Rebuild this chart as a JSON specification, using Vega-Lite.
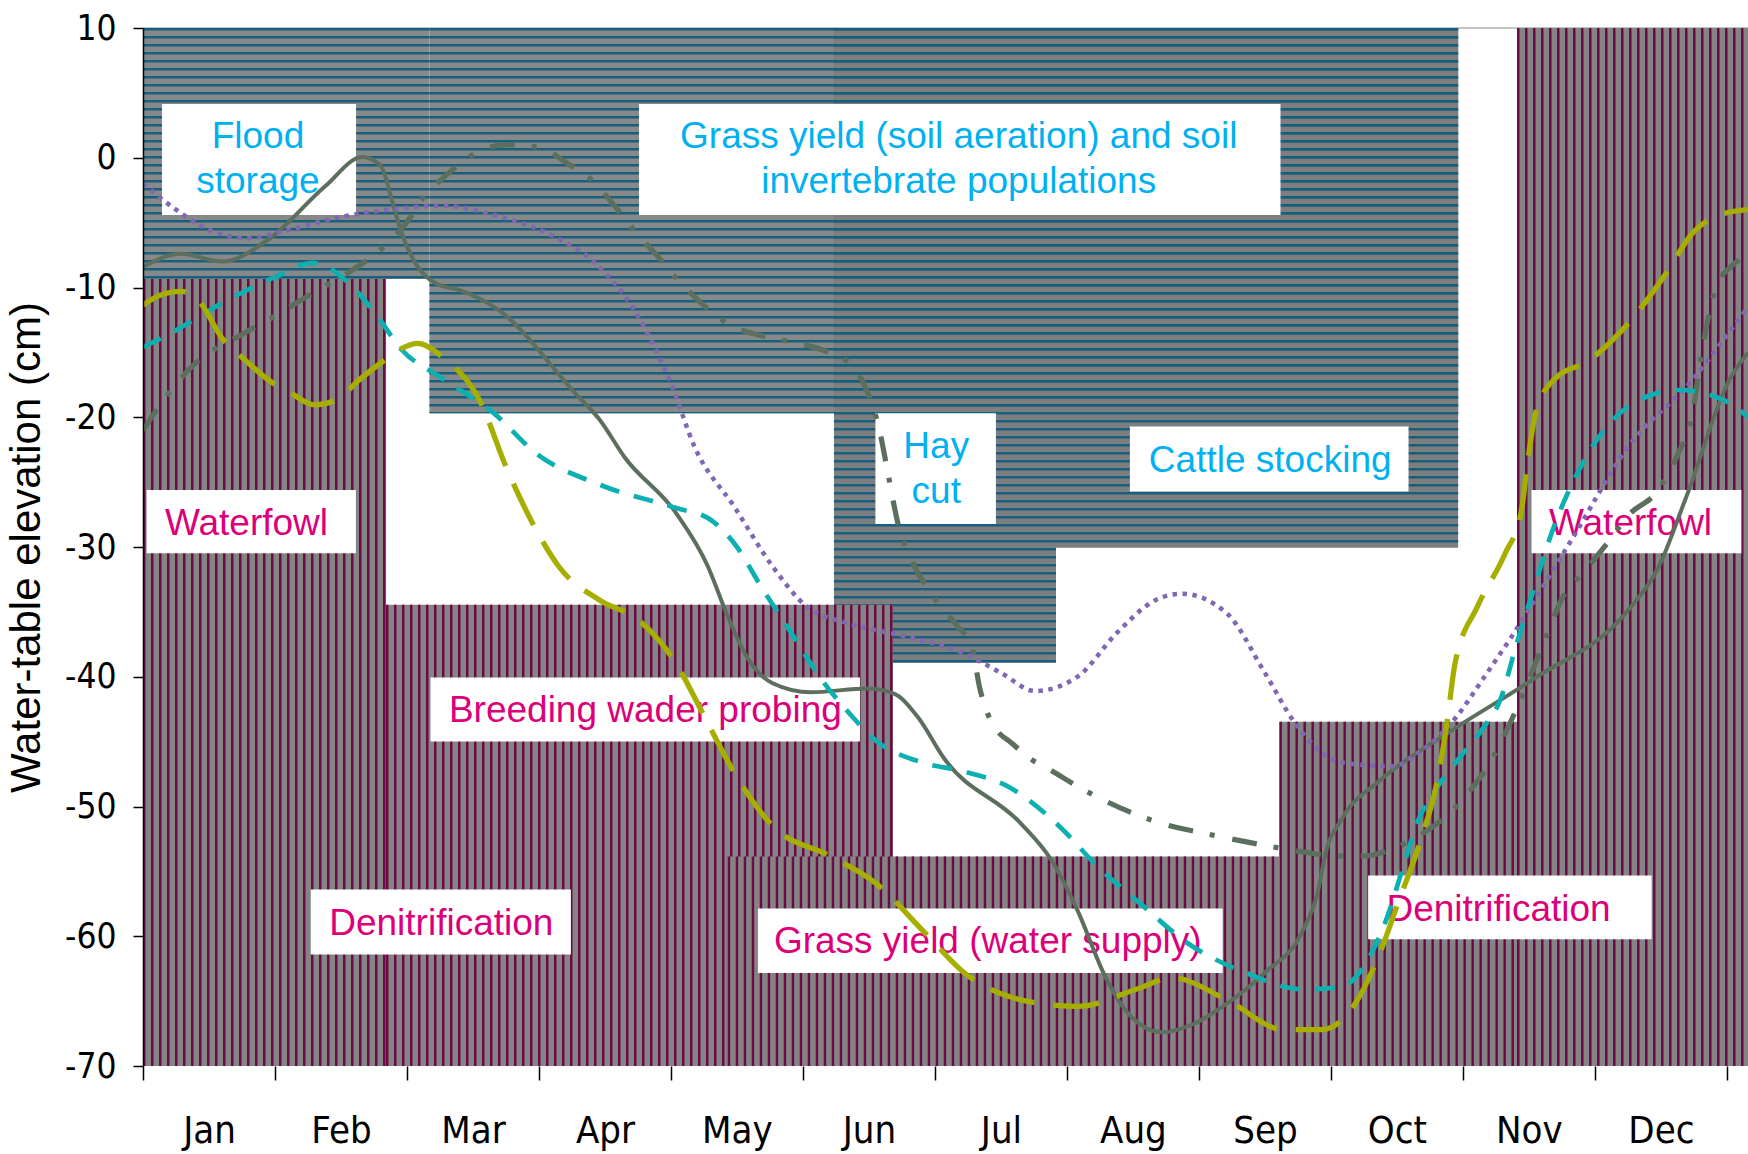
{
  "$schema": "https://vega.github.io/schema/vega-lite/v6.json",
  "width": 1605,
  "height": 1038,
  "autosize": {"type": "none"},
  "padding": {"left": 143, "top": 28, "right": 0, "bottom": 88},
  "background": "white",
  "config": {"view": {"stroke": null}},
  "datasets": {
    "blueZones": [
      {"zone": "Flood storage", "x1": 0, "x2": 2.17, "top": 10, "bottom": -9.35},
      {"zone": "Grass yield (soil aeration)", "x1": 2.17, "x2": 9.964, "top": 10, "bottom": -19.69},
      {"zone": "Hay cut", "x1": 5.235, "x2": 6.917, "top": 10, "bottom": -38.93},
      {"zone": "Cattle stocking", "x1": 6.917, "x2": 9.964, "top": 10, "bottom": -30.05}
    ],
    "pinkZones": [
      {"zone": "Waterfowl (winter)", "x1": 0, "x2": 1.841, "top": -9.35},
      {"zone": "Breeding wader probing", "x1": 1.841, "x2": 5.682, "top": -34.46},
      {"zone": "Denitrification (autumn)", "x1": 8.61, "x2": 10.41, "top": -43.47},
      {"zone": "Waterfowl (late autumn)", "x1": 10.41, "x2": 12.16, "top": 10}
    ],
    "pinkFront": [
      {"zone": "Grass yield (water supply)", "x1": 4.43, "x2": 8.61, "top": -53.85}
    ],
    "boxes": [
      {"box": "Flood storage", "x1": 0.144, "x2": 1.614, "y1": 4.14, "y2": -4.41},
      {"box": "Grass yield (soil aeration)", "x1": 3.758, "x2": 8.618, "y1": 4.14, "y2": -4.41},
      {"box": "Hay cut", "x1": 5.549, "x2": 6.462, "y1": -19.69, "y2": -28.22},
      {"box": "Cattle stocking", "x1": 7.477, "x2": 9.588, "y1": -20.72, "y2": -25.73},
      {"box": "Waterfowl L", "x1": 0.027, "x2": 1.613, "y1": -25.6, "y2": -30.48},
      {"box": "Waterfowl R", "x1": 10.52, "x2": 12.11, "y1": -25.6, "y2": -30.48},
      {"box": "Breeding wader probing", "x1": 2.178, "x2": 5.432, "y1": -40.06, "y2": -44.99},
      {"box": "Denitrification L", "x1": 1.271, "x2": 3.242, "y1": -56.39, "y2": -61.4},
      {"box": "Grass yield (water supply)", "x1": 4.659, "x2": 8.18, "y1": -57.86, "y2": -62.83},
      {"box": "Denitrification R", "x1": 9.282, "x2": 11.43, "y1": -55.31, "y2": -60.24}
    ],
    "labels": [
      {"label": "Flood", "kind": "max", "m": 0.871, "v": 0.72},
      {"label": "storage", "kind": "max", "m": 0.871, "v": -2.7},
      {"label": "Grass yield (soil aeration) and soil", "kind": "max", "m": 6.18, "v": 0.72},
      {"label": "invertebrate populations", "kind": "max", "m": 6.18, "v": -2.7},
      {"label": "Hay", "kind": "max", "m": 6.01, "v": -23.16},
      {"label": "cut", "kind": "max", "m": 6.01, "v": -26.63},
      {"label": "Cattle stocking", "kind": "max", "m": 8.54, "v": -24.19},
      {"label": "Waterfowl", "kind": "min", "m": 0.784, "v": -29.07},
      {"label": "Waterfowl", "kind": "min", "m": 11.27, "v": -29.07},
      {"label": "Breeding wader probing", "kind": "min", "m": 3.806, "v": -43.45},
      {"label": "Denitrification", "kind": "min", "m": 2.26, "v": -59.88},
      {"label": "Grass yield (water supply)", "kind": "min", "m": 6.4, "v": -61.3},
      {"label": "Denitrification", "kind": "min", "m": 10.27, "v": -58.86}
    ],
    "levels": [
      {"series": "1", "m": 0, "v": -8.4}, {"series": "1", "m": 0.29, "v": -7.4}, {"series": "1", "m": 0.6, "v": -8.0},
      {"series": "1", "m": 0.95, "v": -6.3}, {"series": "1", "m": 1.38, "v": -2.2}, {"series": "1", "m": 1.66, "v": 0.05},
      {"series": "1", "m": 1.8, "v": -0.6}, {"series": "1", "m": 1.9, "v": -3.8}, {"series": "1", "m": 1.96, "v": -5.8},
      {"series": "1", "m": 2.05, "v": -7.9}, {"series": "1", "m": 2.22, "v": -9.7}, {"series": "1", "m": 2.4, "v": -10.2},
      {"series": "1", "m": 2.69, "v": -11.7}, {"series": "1", "m": 3.27, "v": -18.1}, {"series": "1", "m": 3.46, "v": -20.2},
      {"series": "1", "m": 3.65, "v": -23.1}, {"series": "1", "m": 4.04, "v": -27.4}, {"series": "1", "m": 4.28, "v": -31.5},
      {"series": "1", "m": 4.42, "v": -35.1}, {"series": "1", "m": 4.56, "v": -38.2}, {"series": "1", "m": 4.77, "v": -40.5},
      {"series": "1", "m": 5.06, "v": -41.2}, {"series": "1", "m": 5.49, "v": -40.9}, {"series": "1", "m": 5.69, "v": -41.3},
      {"series": "1", "m": 5.87, "v": -43.1}, {"series": "1", "m": 6.07, "v": -46.3}, {"series": "1", "m": 6.65, "v": -51.3},
      {"series": "1", "m": 6.88, "v": -54.1}, {"series": "1", "m": 7.08, "v": -58.0}, {"series": "1", "m": 7.29, "v": -63.1},
      {"series": "1", "m": 7.46, "v": -65.9}, {"series": "1", "m": 7.72, "v": -67.4}, {"series": "1", "m": 7.95, "v": -66.8},
      {"series": "1", "m": 8.21, "v": -65.2}, {"series": "1", "m": 8.5, "v": -62.8}, {"series": "1", "m": 8.79, "v": -59.5},
      {"series": "1", "m": 8.9, "v": -56.6}, {"series": "1", "m": 8.96, "v": -53.6}, {"series": "1", "m": 9.08, "v": -51.0},
      {"series": "1", "m": 9.37, "v": -48.0}, {"series": "1", "m": 9.89, "v": -44.3}, {"series": "1", "m": 10.53, "v": -40.2},
      {"series": "1", "m": 11.25, "v": -34.9}, {"series": "1", "m": 11.48, "v": -31.6}, {"series": "1", "m": 11.69, "v": -26.2},
      {"series": "1", "m": 12.02, "v": -17.1}, {"series": "1", "m": 12.16, "v": -15.0},

      {"series": "2", "m": 0, "v": -21.0}, {"series": "2", "m": 0.19, "v": -18.2}, {"series": "2", "m": 0.37, "v": -16.1},
      {"series": "2", "m": 0.77, "v": -13.5}, {"series": "2", "m": 1.0, "v": -12.2}, {"series": "2", "m": 1.29, "v": -10.4},
      {"series": "2", "m": 1.58, "v": -8.7}, {"series": "2", "m": 1.82, "v": -6.9}, {"series": "2", "m": 1.99, "v": -5.1},
      {"series": "2", "m": 2.13, "v": -3.0}, {"series": "2", "m": 2.28, "v": -1.5}, {"series": "2", "m": 2.51, "v": 0.3},
      {"series": "2", "m": 2.74, "v": 1.0}, {"series": "2", "m": 3.0, "v": 0.8}, {"series": "2", "m": 3.21, "v": -0.4},
      {"series": "2", "m": 3.41, "v": -1.8}, {"series": "2", "m": 3.58, "v": -3.8}, {"series": "2", "m": 3.74, "v": -5.8},
      {"series": "2", "m": 3.9, "v": -7.6}, {"series": "2", "m": 4.07, "v": -9.6}, {"series": "2", "m": 4.24, "v": -11.3},
      {"series": "2", "m": 4.45, "v": -12.9}, {"series": "2", "m": 4.68, "v": -13.7}, {"series": "2", "m": 4.91, "v": -14.2},
      {"series": "2", "m": 5.17, "v": -14.9}, {"series": "2", "m": 5.38, "v": -16.1}, {"series": "2", "m": 5.49, "v": -18.1},
      {"series": "2", "m": 5.58, "v": -21.0}, {"series": "2", "m": 5.64, "v": -24.1}, {"series": "2", "m": 5.72, "v": -28.2},
      {"series": "2", "m": 5.85, "v": -31.6}, {"series": "2", "m": 5.96, "v": -33.4}, {"series": "2", "m": 6.07, "v": -34.9},
      {"series": "2", "m": 6.17, "v": -36.1}, {"series": "2", "m": 6.28, "v": -37.7}, {"series": "2", "m": 6.34, "v": -40.9},
      {"series": "2", "m": 6.39, "v": -42.6}, {"series": "2", "m": 6.46, "v": -44.0}, {"series": "2", "m": 6.58, "v": -45.1},
      {"series": "2", "m": 6.72, "v": -46.3}, {"series": "2", "m": 6.86, "v": -47.1}, {"series": "2", "m": 7.09, "v": -48.5},
      {"series": "2", "m": 7.52, "v": -50.6}, {"series": "2", "m": 7.75, "v": -51.4}, {"series": "2", "m": 8.01, "v": -52.0},
      {"series": "2", "m": 8.5, "v": -53.0}, {"series": "2", "m": 8.79, "v": -53.5}, {"series": "2", "m": 9.02, "v": -53.8},
      {"series": "2", "m": 9.25, "v": -53.8}, {"series": "2", "m": 9.48, "v": -53.2}, {"series": "2", "m": 9.66, "v": -52.3},
      {"series": "2", "m": 9.89, "v": -50.6}, {"series": "2", "m": 10.06, "v": -48.7}, {"series": "2", "m": 10.2, "v": -46.7},
      {"series": "2", "m": 10.41, "v": -42.4}, {"series": "2", "m": 10.62, "v": -37.2}, {"series": "2", "m": 10.76, "v": -33.8},
      {"series": "2", "m": 10.91, "v": -32.0}, {"series": "2", "m": 11.11, "v": -29.5}, {"series": "2", "m": 11.25, "v": -27.6},
      {"series": "2", "m": 11.48, "v": -25.6}, {"series": "2", "m": 11.63, "v": -22.8}, {"series": "2", "m": 11.74, "v": -19.7},
      {"series": "2", "m": 11.8, "v": -15.6}, {"series": "2", "m": 11.92, "v": -9.9}, {"series": "2", "m": 12.03, "v": -8.4},
      {"series": "2", "m": 12.16, "v": -7.5},

      {"series": "3", "m": 0, "v": -2.0}, {"series": "3", "m": 0.25, "v": -4.0}, {"series": "3", "m": 0.51, "v": -5.6},
      {"series": "3", "m": 0.8, "v": -6.2}, {"series": "3", "m": 1.09, "v": -5.6}, {"series": "3", "m": 1.53, "v": -4.5},
      {"series": "3", "m": 1.96, "v": -3.9}, {"series": "3", "m": 2.25, "v": -3.7}, {"series": "3", "m": 2.69, "v": -4.5},
      {"series": "3", "m": 3.12, "v": -6.1}, {"series": "3", "m": 3.4, "v": -7.9}, {"series": "3", "m": 3.75, "v": -12.2},
      {"series": "3", "m": 4.0, "v": -17.4}, {"series": "3", "m": 4.18, "v": -22.3}, {"series": "3", "m": 4.48, "v": -26.9},
      {"series": "3", "m": 4.77, "v": -31.5}, {"series": "3", "m": 5.03, "v": -34.6}, {"series": "3", "m": 5.35, "v": -35.9},
      {"series": "3", "m": 5.78, "v": -36.9}, {"series": "3", "m": 6.22, "v": -38.2}, {"series": "3", "m": 6.5, "v": -39.7},
      {"series": "3", "m": 6.76, "v": -41.1}, {"series": "3", "m": 7.08, "v": -40.0}, {"series": "3", "m": 7.38, "v": -36.6},
      {"series": "3", "m": 7.67, "v": -34.1}, {"series": "3", "m": 7.87, "v": -33.6}, {"series": "3", "m": 8.21, "v": -35.1},
      {"series": "3", "m": 8.5, "v": -39.7}, {"series": "3", "m": 8.73, "v": -43.6}, {"series": "3", "m": 9.08, "v": -46.6},
      {"series": "3", "m": 9.47, "v": -46.9}, {"series": "3", "m": 9.7, "v": -45.6}, {"series": "3", "m": 9.95, "v": -43.1},
      {"series": "3", "m": 10.15, "v": -40.2}, {"series": "3", "m": 10.35, "v": -37.2}, {"series": "3", "m": 10.82, "v": -29.5},
      {"series": "3", "m": 11.25, "v": -22.3}, {"series": "3", "m": 11.74, "v": -17.1}, {"series": "3", "m": 12.05, "v": -13.0},
      {"series": "3", "m": 12.16, "v": -11.5},

      {"series": "4", "m": 0, "v": -14.6}, {"series": "4", "m": 0.25, "v": -13.3}, {"series": "4", "m": 0.6, "v": -11.2},
      {"series": "4", "m": 1.0, "v": -9.2}, {"series": "4", "m": 1.29, "v": -8.1}, {"series": "4", "m": 1.53, "v": -9.4},
      {"series": "4", "m": 1.76, "v": -12.0}, {"series": "4", "m": 1.96, "v": -14.8}, {"series": "4", "m": 2.25, "v": -16.9},
      {"series": "4", "m": 2.66, "v": -19.7}, {"series": "4", "m": 2.98, "v": -22.8}, {"series": "4", "m": 3.46, "v": -25.2},
      {"series": "4", "m": 4.04, "v": -27.0}, {"series": "4", "m": 4.3, "v": -27.9}, {"series": "4", "m": 4.5, "v": -30.0},
      {"series": "4", "m": 4.68, "v": -33.0}, {"series": "4", "m": 4.91, "v": -36.6}, {"series": "4", "m": 5.14, "v": -40.2},
      {"series": "4", "m": 5.35, "v": -42.8}, {"series": "4", "m": 5.55, "v": -44.9}, {"series": "4", "m": 5.9, "v": -46.6},
      {"series": "4", "m": 6.22, "v": -47.3}, {"series": "4", "m": 6.56, "v": -48.5}, {"series": "4", "m": 6.94, "v": -51.5},
      {"series": "4", "m": 7.23, "v": -54.6}, {"series": "4", "m": 7.58, "v": -57.7}, {"series": "4", "m": 7.91, "v": -60.5},
      {"series": "4", "m": 8.35, "v": -62.8}, {"series": "4", "m": 8.79, "v": -64.1}, {"series": "4", "m": 9.08, "v": -63.9},
      {"series": "4", "m": 9.25, "v": -62.3}, {"series": "4", "m": 9.42, "v": -58.7}, {"series": "4", "m": 9.54, "v": -54.9},
      {"series": "4", "m": 9.66, "v": -51.1}, {"series": "4", "m": 9.8, "v": -48.6}, {"series": "4", "m": 9.97, "v": -46.3},
      {"series": "4", "m": 10.15, "v": -44.0}, {"series": "4", "m": 10.29, "v": -41.6}, {"series": "4", "m": 10.4, "v": -37.7},
      {"series": "4", "m": 10.52, "v": -33.8}, {"series": "4", "m": 10.68, "v": -28.7}, {"series": "4", "m": 10.91, "v": -23.5},
      {"series": "4", "m": 11.25, "v": -19.2}, {"series": "4", "m": 11.63, "v": -17.9}, {"series": "4", "m": 11.98, "v": -18.7},
      {"series": "4", "m": 12.16, "v": -20.0},

      {"series": "5", "m": 0, "v": -11.35}, {"series": "5", "m": 0.13, "v": -10.6}, {"series": "5", "m": 0.29, "v": -10.3},
      {"series": "5", "m": 0.42, "v": -11.0}, {"series": "5", "m": 0.61, "v": -14.05}, {"series": "5", "m": 0.72, "v": -15.1},
      {"series": "5", "m": 0.99, "v": -17.4}, {"series": "5", "m": 1.1, "v": -18.0}, {"series": "5", "m": 1.3, "v": -19.05},
      {"series": "5", "m": 1.46, "v": -18.7}, {"series": "5", "m": 1.64, "v": -17.1}, {"series": "5", "m": 1.83, "v": -15.6},
      {"series": "5", "m": 1.96, "v": -14.7}, {"series": "5", "m": 2.08, "v": -14.3}, {"series": "5", "m": 2.28, "v": -15.45},
      {"series": "5", "m": 2.54, "v": -18.5}, {"series": "5", "m": 2.77, "v": -24.3}, {"series": "5", "m": 2.98, "v": -28.7},
      {"series": "5", "m": 3.15, "v": -31.5}, {"series": "5", "m": 3.46, "v": -34.1}, {"series": "5", "m": 3.75, "v": -35.6},
      {"series": "5", "m": 4.04, "v": -39.0}, {"series": "5", "m": 4.24, "v": -42.8}, {"series": "5", "m": 4.48, "v": -47.4},
      {"series": "5", "m": 4.77, "v": -51.5}, {"series": "5", "m": 5.2, "v": -53.8}, {"series": "5", "m": 5.55, "v": -55.9},
      {"series": "5", "m": 5.93, "v": -59.8}, {"series": "5", "m": 6.22, "v": -62.8}, {"series": "5", "m": 6.65, "v": -64.9},
      {"series": "5", "m": 7.09, "v": -65.4}, {"series": "5", "m": 7.52, "v": -64.1}, {"series": "5", "m": 7.8, "v": -63.2},
      {"series": "5", "m": 8.21, "v": -64.9}, {"series": "5", "m": 8.64, "v": -67.2}, {"series": "5", "m": 8.93, "v": -67.2},
      {"series": "5", "m": 9.17, "v": -65.4}, {"series": "5", "m": 9.37, "v": -61.3}, {"series": "5", "m": 9.51, "v": -57.4},
      {"series": "5", "m": 9.69, "v": -52.3}, {"series": "5", "m": 9.8, "v": -48.3}, {"series": "5", "m": 9.88, "v": -43.5},
      {"series": "5", "m": 9.94, "v": -39.0}, {"series": "5", "m": 10.11, "v": -34.6}, {"series": "5", "m": 10.32, "v": -30.5},
      {"series": "5", "m": 10.44, "v": -27.4}, {"series": "5", "m": 10.49, "v": -23.5}, {"series": "5", "m": 10.55, "v": -19.7},
      {"series": "5", "m": 10.69, "v": -17.1}, {"series": "5", "m": 10.96, "v": -15.6}, {"series": "5", "m": 11.25, "v": -12.8},
      {"series": "5", "m": 11.54, "v": -8.9}, {"series": "5", "m": 11.74, "v": -5.8}, {"series": "5", "m": 11.98, "v": -4.3},
      {"series": "5", "m": 12.16, "v": -4.0}
    ]
  },
  "layer": [
    {
      "data": {"values": [{}]},
      "mark": {"type": "rule", "color": "#c4c4c4", "strokeWidth": 2},
      "encoding": {
        "y": {"datum": 10, "type": "quantitative", "scale": {"domain": [-70, 10], "nice": false, "zero": false}}
      }
    },
    {
      "data": {"name": "blueZones"},
      "mark": {"type": "rect"},
      "encoding": {
        "x": {
          "field": "x1", "type": "quantitative",
          "scale": {"domain": [0, 12.16], "nice": false, "zero": false},
          "axis": {
            "values": [0, 1, 2, 3, 4, 5, 6, 7, 8, 9, 10, 11, 12],
            "labelExpr": "datum.value < 12 ? ['Jan','Feb','Mar','Apr','May','Jun','Jul','Aug','Sep','Oct','Nov','Dec'][datum.value] : ''",
            "labelOffset": 66,
            "domain": false,
            "grid": false,
            "tickSize": 14,
            "tickColor": "black",
            "tickWidth": 1.5,
            "labelFont": "DejaVu Sans Condensed, Liberation Sans Narrow, sans-serif",
            "labelFontSize": 38,
            "labelColor": "black",
            "labelPadding": 32,
            "labelOverlap": false,
            "labelBound": false,
            "labelFlush": false,
            "title": null,
            "zindex": 1
          }
        },
        "x2": {"field": "x2"},
        "y": {
          "field": "top", "type": "quantitative",
          "scale": {"domain": [-70, 10], "nice": false, "zero": false},
          "axis": {
            "values": [-70, -60, -50, -40, -30, -20, -10, 0, 10],
            "labelExpr": "'' + datum.value",
            "domain": true,
            "domainColor": "black",
            "domainWidth": 1.5,
            "grid": false,
            "tickSize": 10,
            "tickColor": "black",
            "tickWidth": 1.5,
            "labelFont": "DejaVu Sans Condensed, Liberation Sans Narrow, sans-serif",
            "labelFontSize": 35,
            "labelColor": "black",
            "labelPadding": 17,
            "labelOverlap": false,
            "labelBound": false,
            "labelFlush": false,
            "title": "Water-table elevation (cm)",
            "titleFont": "Liberation Sans",
            "titleFontSize": 42,
            "titleFontWeight": "normal",
            "titleColor": "black",
            "titlePadding": 16,
            "zindex": 1
          }
        },
        "y2": {"field": "bottom"},
        "fill": {
          "condition": {"test": "datum.zone === 'Hay cut' || datum.zone === 'Cattle stocking'", "value": "#7e7e7e"},
          "value": "#888888"
        }
      }
    },
    {
      "data": {"name": "blueZones"},
      "transform": [
        {"fold": ["x1", "x2"], "as": ["edge", "xe"]},
        {"aggregate": [{"op": "mean", "field": "xe", "as": "xm"}, {"op": "stdevp", "field": "xe", "as": "hw"}], "groupby": ["zone", "top", "bottom"]}
      ],
      "mark": {"type": "rule", "color": "#14607f", "strokeDash": [2.5, 5.5], "clip": true},
      "encoding": {
        "x": {"field": "xm", "type": "quantitative", "scale": {"domain": [0, 12.16], "nice": false, "zero": false}},
        "y": {"field": "top", "type": "quantitative", "scale": {"domain": [-70, 10], "nice": false, "zero": false}},
        "y2": {"field": "bottom"},
        "size": {"field": "hw", "type": "quantitative", "scale": {"domain": [0, 6.08], "range": [0, 1605], "zero": true}, "legend": null}
      }
    },
    {
      "data": {"name": "pinkZones"},
      "mark": {"type": "rect", "fill": "#848484"},
      "encoding": {
        "x": {"field": "x1", "type": "quantitative", "scale": {"domain": [0, 12.16], "nice": false, "zero": false}},
        "x2": {"field": "x2"},
        "y": {"field": "top", "type": "quantitative", "scale": {"domain": [-70, 10], "nice": false, "zero": false}},
        "y2": {"datum": -70}
      }
    },
    {
      "data": {"name": "pinkZones"},
      "mark": {"type": "rule", "color": "#6c0a46", "strokeDash": [2.5, 5.5], "clip": true},
      "encoding": {
        "x": {"field": "x1", "type": "quantitative", "scale": {"domain": [0, 12.16], "nice": false, "zero": false}},
        "x2": {"field": "x2"},
        "y": {"datum": -70, "type": "quantitative", "scale": {"domain": [-70, 10], "nice": false, "zero": false}},
        "size": {"field": "top", "type": "quantitative", "scale": {"domain": [-70, 10], "range": [0, 2076], "zero": false}, "legend": null}
      }
    },
    {
      "data": {"name": "pinkFront"},
      "mark": {"type": "rect", "fill": "#848484"},
      "encoding": {
        "x": {"field": "x1", "type": "quantitative", "scale": {"domain": [0, 12.16], "nice": false, "zero": false}},
        "x2": {"field": "x2"},
        "y": {"field": "top", "type": "quantitative", "scale": {"domain": [-70, 10], "nice": false, "zero": false}},
        "y2": {"datum": -70}
      }
    },
    {
      "data": {"name": "pinkFront"},
      "mark": {"type": "rule", "color": "#6c0a46", "strokeDash": [2.5, 5.5], "clip": true},
      "encoding": {
        "x": {"field": "x1", "type": "quantitative", "scale": {"domain": [0, 12.16], "nice": false, "zero": false}},
        "x2": {"field": "x2"},
        "y": {"datum": -70, "type": "quantitative", "scale": {"domain": [-70, 10], "nice": false, "zero": false}},
        "size": {"field": "top", "type": "quantitative", "scale": {"domain": [-70, 10], "range": [0, 2076], "zero": false}, "legend": null}
      }
    },
    {
      "data": {"name": "boxes"},
      "mark": {"type": "rect", "fill": "white"},
      "encoding": {
        "x": {"field": "x1", "type": "quantitative", "scale": {"domain": [0, 12.16], "nice": false, "zero": false}},
        "x2": {"field": "x2"},
        "y": {"field": "y1", "type": "quantitative", "scale": {"domain": [-70, 10], "nice": false, "zero": false}},
        "y2": {"field": "y2"}
      }
    },
    {
      "data": {"name": "labels"},
      "mark": {"type": "text", "font": "Liberation Sans", "fontSize": 37, "baseline": "alphabetic", "align": "center"},
      "encoding": {
        "x": {"field": "m", "type": "quantitative", "scale": {"domain": [0, 12.16], "nice": false, "zero": false}},
        "y": {"field": "v", "type": "quantitative", "scale": {"domain": [-70, 10], "nice": false, "zero": false}},
        "text": {"field": "label"},
        "color": {"field": "kind", "type": "nominal", "scale": {"domain": ["max", "min"], "range": ["#00b0f0", "#dc0078"]}, "legend": null}
      }
    },
    {
      "data": {"name": "levels"},
      "transform": [{"filter": "datum.series === '1'"}],
      "mark": {"type": "line", "interpolate": "monotone", "color": "#5c6f5e", "strokeWidth": 4, "clip": true},
      "encoding": {
        "x": {"field": "m", "type": "quantitative", "scale": {"domain": [0, 12.16], "nice": false, "zero": false}},
        "y": {"field": "v", "type": "quantitative", "scale": {"domain": [-70, 10], "nice": false, "zero": false}}
      }
    },
    {
      "data": {"name": "levels"},
      "transform": [{"filter": "datum.series === '2'"}],
      "mark": {"type": "line", "interpolate": "monotone", "color": "#5c6f5e", "strokeWidth": 5.2, "strokeDash": [25, 17, 5, 18], "clip": true},
      "encoding": {
        "x": {"field": "m", "type": "quantitative", "scale": {"domain": [0, 12.16], "nice": false, "zero": false}},
        "y": {"field": "v", "type": "quantitative", "scale": {"domain": [-70, 10], "nice": false, "zero": false}}
      }
    },
    {
      "data": {"name": "levels"},
      "transform": [{"filter": "datum.series === '3'"}],
      "mark": {"type": "line", "interpolate": "monotone", "color": "#8066b3", "strokeWidth": 4.5, "strokeDash": [4.5, 5.5], "clip": true},
      "encoding": {
        "x": {"field": "m", "type": "quantitative", "scale": {"domain": [0, 12.16], "nice": false, "zero": false}},
        "y": {"field": "v", "type": "quantitative", "scale": {"domain": [-70, 10], "nice": false, "zero": false}}
      }
    },
    {
      "data": {"name": "levels"},
      "transform": [{"filter": "datum.series === '4'"}],
      "mark": {"type": "line", "interpolate": "monotone", "color": "#0cb0b0", "strokeWidth": 4.7, "strokeDash": [20, 15], "clip": true},
      "encoding": {
        "x": {"field": "m", "type": "quantitative", "scale": {"domain": [0, 12.16], "nice": false, "zero": false}},
        "y": {"field": "v", "type": "quantitative", "scale": {"domain": [-70, 10], "nice": false, "zero": false}}
      }
    },
    {
      "data": {"name": "levels"},
      "transform": [{"filter": "datum.series === '5'"}],
      "mark": {"type": "line", "interpolate": "monotone", "color": "#a6ae00", "strokeWidth": 5.3, "strokeDash": [46, 19], "clip": true},
      "encoding": {
        "x": {"field": "m", "type": "quantitative", "scale": {"domain": [0, 12.16], "nice": false, "zero": false}},
        "y": {"field": "v", "type": "quantitative", "scale": {"domain": [-70, 10], "nice": false, "zero": false}}
      }
    }
  ],
  "resolve": {"scale": {"size": "independent"}}
}
